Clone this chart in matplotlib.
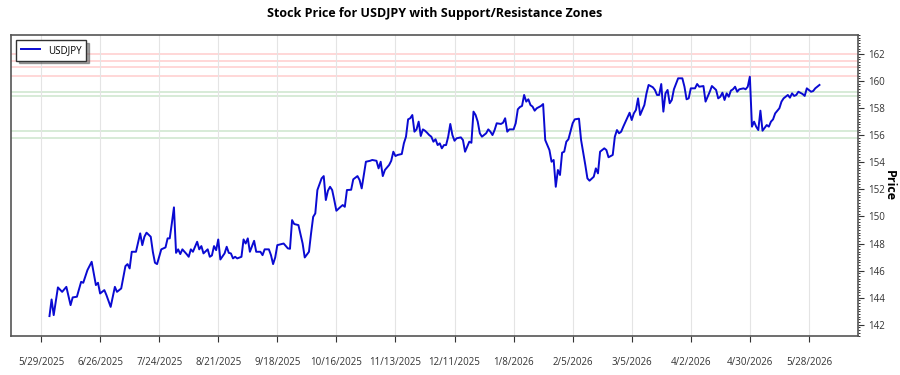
import matplotlib
matplotlib.use("Agg")
import matplotlib.pyplot as plt
from matplotlib.ticker import MultipleLocator
import pandas as pd

plt.rcParams['font.family'] = ['Open Sans', 'DejaVu Sans']

symbol = "USDJPY"
start = "2025-05-29"

# days after start, closing price
days = [4, 5, 6, 8, 10, 12, 14, 15, 17, 19, 20, 22, 24, 26, 27, 28, 30, 31, 33, 35,
        36, 38, 40, 41, 42, 43, 45, 47, 48, 49, 50, 52, 53, 54, 55, 57, 59, 60, 61, 62,
        63, 64, 65, 66, 67, 69, 70, 71, 72, 74, 75, 76, 77, 79, 80, 81, 82, 83, 84, 85,
        87, 88, 89, 90, 91, 92, 93, 95, 96, 97, 98, 99, 101, 102, 104, 105, 106, 108, 109, 110,
        111, 112, 114, 115, 117, 118, 119, 120, 122, 124, 125, 127, 128, 129, 130, 131, 133, 134, 135, 136,
        137, 138, 139, 140, 142, 143, 144, 145, 147, 148, 150, 151, 152, 153, 154, 156, 157, 159, 160, 161,
        162, 163, 165, 166, 167, 168, 169, 171, 172, 173, 174, 175, 176, 177, 178, 179, 180, 181, 182, 183,
        184, 185, 186, 187, 188, 189, 190, 191, 192, 193, 194, 195, 196, 197, 199, 200, 201, 202, 203, 204,
        205, 206, 207, 208, 209, 211, 212, 213, 214, 215, 216, 218, 219, 220, 221, 222, 224, 225, 226, 227,
        228, 229, 230, 231, 232, 233, 234, 235, 237, 238, 239, 241, 242, 243, 244, 245, 246, 247, 248, 249,
        250, 252, 253, 255, 256, 258, 259, 260, 262, 263, 264, 265, 267, 268, 269, 271, 272, 273, 274, 275,
        276, 278, 279, 280, 281, 282, 283, 284, 286, 287, 288, 290, 291, 292, 293, 294, 295, 296, 297, 298,
        299, 300, 302, 304, 305, 306, 307, 308, 310, 311, 312, 314, 315, 316, 317, 318, 320, 321, 322, 323,
        324, 325, 326, 327, 328, 329, 330, 331, 333, 334, 335, 336, 337, 338, 339, 340, 341, 342, 344, 345,
        346, 347, 348, 350, 351, 352, 353, 354, 355, 356, 357, 358, 359, 361, 362, 363, 365, 366, 367, 369]

price = [142.64, 143.87, 142.71, 144.76, 144.43, 144.80, 143.45, 144.02, 144.07, 145.17,
         145.10, 146.04, 146.65, 144.93, 145.10, 144.31, 144.56, 144.19, 143.32, 144.80,
         144.43, 144.68, 146.33, 146.48, 146.16, 147.39, 147.39, 148.75, 147.88, 148.50,
         148.80, 148.50, 147.39, 146.58, 146.48, 147.57, 147.71, 148.38, 148.38, 149.49,
         150.67, 147.31, 147.57, 147.22, 147.57, 147.22, 147.02, 147.57, 147.39, 148.13,
         147.57, 147.81, 147.27, 147.57, 147.02, 147.12, 147.81, 147.51, 148.30, 146.82,
         147.27, 147.76, 147.31, 147.27, 146.90, 147.02, 146.90, 147.02, 148.30, 148.00,
         148.38, 147.39, 148.20, 147.39, 147.39, 147.14, 147.57, 147.57, 147.14, 146.48,
         146.97, 147.88, 147.96, 148.00, 147.64, 147.61, 149.73, 149.44, 149.36, 148.00,
         146.97, 147.39, 148.75, 149.97, 150.22, 151.95, 152.81, 152.98, 151.21, 151.90,
         152.19, 151.95, 151.21, 150.42, 150.71, 150.84, 150.71, 151.95, 151.97, 152.74,
         152.98, 152.69, 152.07, 153.06, 154.04, 154.11, 154.17, 154.11, 153.55, 154.04,
         152.98, 153.43, 153.80, 154.11, 154.78, 154.46, 154.54, 154.61, 155.40, 155.89,
         157.17, 157.25, 157.49, 156.26, 156.43, 157.00, 155.94, 156.43, 156.33, 156.18,
         156.01, 155.89, 155.52, 155.70, 155.27, 155.40, 155.03, 155.27, 155.27, 155.89,
         156.83, 156.01, 155.59, 155.77, 155.84, 155.64, 154.78, 155.15, 155.52, 155.44,
         157.74, 157.49, 157.00, 156.14, 155.89, 156.14, 156.43, 156.26, 156.01, 156.38,
         156.88, 156.83, 156.92, 157.25, 156.26, 156.43, 156.43, 156.88, 157.91, 158.08,
         158.16, 158.97, 158.48, 158.65, 158.23, 158.11, 157.81, 157.99, 158.16, 158.30,
         155.64, 154.90, 154.04, 154.17, 152.19, 153.43, 153.06, 154.71, 154.78, 155.52,
         155.70, 156.88, 157.17, 157.22, 155.64, 153.80, 152.81, 152.64, 152.93, 153.55,
         153.18, 154.78, 155.03, 154.90, 154.37, 154.54, 155.89, 156.38, 156.14, 156.26,
         156.63, 157.32, 157.66, 157.12, 157.61, 157.86, 158.72, 157.49, 158.23, 159.09,
         159.71, 159.54, 159.34, 158.97, 158.97, 159.78, 157.74, 159.09, 159.34, 158.36,
         158.60, 159.39, 160.20, 160.20, 159.58, 158.65, 158.72, 159.46, 159.46, 159.78,
         159.58, 159.63, 158.48, 158.84, 159.21, 159.63, 159.34, 158.72, 158.84, 159.14,
         158.60, 159.09, 158.84, 159.29, 159.39, 159.58, 159.21, 159.39, 159.46, 159.39,
         159.58, 160.32, 156.63, 157.00, 156.63, 156.38, 157.81, 156.33, 156.75, 156.63,
         157.00, 157.17, 157.61, 157.99, 158.48, 158.72, 158.84, 158.97, 158.77, 159.09,
         158.90, 158.97, 159.21, 159.04, 158.90, 159.46, 159.21, 159.26, 159.46, 159.71]

resistance = [162.0, 161.5, 161.0, 160.4]
support = [159.2, 158.9, 156.3, 155.8]

tick_dates = pd.date_range(start, periods=14, freq="28D")

dates = pd.Timestamp(start) + pd.to_timedelta(days, unit="D")

fig = plt.figure(figsize=(9, 3.75), dpi=100)
ax = fig.add_axes([0.0122, 0.104, 0.9411, 0.8027])

ax.plot(dates, price, color="#0a0ad2", lw=1.4, label=symbol, zorder=3)

for r in resistance:
    ax.axhline(r, color="red", alpha=0.2, lw=1.1, zorder=1)
for s in support:
    ax.axhline(s, color="green", alpha=0.2, lw=1.1, zorder=1)

ax.set_ylim(141.17, 163.4)
ax.yaxis.tick_right()
ax.yaxis.set_label_position("right")
ax.yaxis.set_major_locator(MultipleLocator(2))
ax.yaxis.set_minor_locator(MultipleLocator(0.2))
ax.tick_params(axis="y", which="major", labelsize=7, length=4, pad=3, colors="#333333")
ax.tick_params(axis="y", which="minor", length=1.5, width=0.7, color="#333333")
ax.set_ylabel("Price", rotation=270, labelpad=8, fontsize=9, fontweight="bold")

ax.set_xticks(tick_dates)
ax.set_xticklabels([f"{d.month}/{d.day}/{d.year}" for d in tick_dates])
ax.tick_params(axis="x", labelsize=7, length=4, pad=11, colors="#333333")
ax.grid(axis="x", color="#e4e4e4", lw=0.8)

for sp in ax.spines.values():
    sp.set_color("#555555")
    sp.set_linewidth(1.2)

ax.set_title("Stock Price for USDJPY with Support/Resistance Zones",
             fontsize=9, fontweight="bold", pad=13)
leg = ax.legend(loc="upper left", fontsize=7, fancybox=False, shadow=True,
                edgecolor="#333333", borderpad=0.5, handlelength=2.0)
leg.get_frame().set_linewidth(1.0)

plt.savefig("out.png", dpi=100)
